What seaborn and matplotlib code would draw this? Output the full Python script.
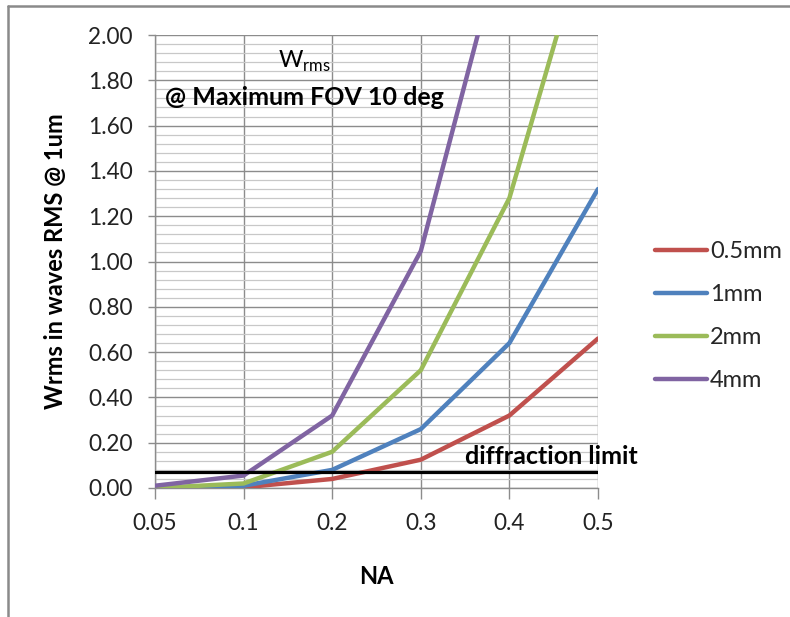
import numpy as np
import pandas as pd
import matplotlib
matplotlib.use("Agg")
import matplotlib.pyplot as plt
from matplotlib.lines import Line2D
from matplotlib.ticker import MultipleLocator
import seaborn as sns

# Numerical aperture categories (equally spaced category axis)
na_labels = ["0.05", "0.1", "0.2", "0.3", "0.4", "0.5"]

# RMS wavefront error (waves @ 1um) per field size
wrms_05mm = [0.00, 0.003, 0.04, 0.125, 0.32, 0.66]
wrms_1mm = [0.00, 0.01, 0.08, 0.26, 0.64, 1.32]
wrms_2mm = [0.00, 0.02, 0.16, 0.52, 1.28, 2.62]
wrms_4mm = [0.01, 0.055, 0.32, 1.046, 2.53, 4.90]

series_names = ["0.5mm", "1mm", "2mm", "4mm"]
series_colors = ["#C0504D", "#4F81BD", "#9BBB59", "#8064A2"]
diffraction_limit = 0.0714

rows = []
for name, vals in zip(series_names, [wrms_05mm, wrms_1mm, wrms_2mm, wrms_4mm]):
    for lab, v in zip(na_labels, vals):
        rows.append({"NA": lab, "Wrms": v, "size": name})
df = pd.DataFrame(rows)

sns.set_theme(style="white")
plt.rcParams["font.family"] = ["Lato", "DejaVu Sans"]

fig = plt.figure(figsize=(7.9, 6.17), dpi=100)
ax = fig.add_axes([155 / 790, 1 - 488 / 617, (598 - 155) / 790, (488 - 35) / 617])

sns.lineplot(data=df, x="NA", y="Wrms", hue="size", palette=series_colors,
             hue_order=series_names, linewidth=3.2, ax=ax, legend=False,
             sort=False, zorder=3)

ax.axhline(diffraction_limit, color="black", linewidth=2.3, zorder=4)

ax.set_xlim(0, len(na_labels) - 1)
ax.set_ylim(0, 2.0)
ax.yaxis.set_minor_locator(MultipleLocator(0.04))
ax.set_yticks(np.arange(0, 2.01, 0.2))
ax.set_yticklabels([f"{v:.2f}" for v in np.arange(0, 2.01, 0.2)])
ax.set_xticks(range(len(na_labels)))
ax.set_xticklabels(na_labels)

ax.grid(which="major", axis="y", color="#8c8c8c", linewidth=1.0, zorder=0)
ax.grid(which="minor", axis="y", color="#c8c8c8", linewidth=0.9, zorder=0)
ax.grid(which="major", axis="x", color="#8c8c8c", linewidth=1.0, zorder=0)
ax.set_axisbelow(True)

for side in ["top", "right"]:
    ax.spines[side].set_visible(False)
for side in ["left", "bottom"]:
    ax.spines[side].set_color("#8c8c8c")
    ax.spines[side].set_linewidth(1.0)

ax.tick_params(axis="y", which="major", direction="out", length=5, width=1,
               color="#8c8c8c", labelsize=16.3, pad=11, left=True)
ax.tick_params(axis="y", which="minor", length=0)
ax.tick_params(axis="x", which="major", direction="out", length=8, width=1,
               color="#8c8c8c", labelsize=16.3, pad=10, bottom=True)
for lab in ax.get_xticklabels() + ax.get_yticklabels():
    lab.set_color("#222222")

ax.set_xlabel("NA", fontsize=17, fontweight="bold", color="black")
ax.set_ylabel("Wrms in waves RMS @ 1um", fontsize=17, fontweight="bold",
              color="black")
ax.xaxis.label.set_va("center")
ax.yaxis.label.set_va("center")
ax.xaxis.set_label_coords(0.5, (488 - 577) / 453)
ax.yaxis.set_label_coords((55 - 155) / 443, 0.5)

# Chart annotations
ax.text(1.69, 1.885, r"W$_{\mathregular{rms}}$", fontsize=17, ha="center",
        va="center", color="black")
ax.text(0.11, 1.726, "@ Maximum FOV 10 deg", fontsize=18, fontweight="bold",
        ha="left", va="center", color="black")
ax.text(3.5, 0.137, "diffraction limit", fontsize=18, fontweight="bold",
        ha="left", va="center", color="black", clip_on=False)

# Legend
handles = [Line2D([0], [0], color=c, linewidth=3.2, solid_capstyle="round")
           for c in series_colors]
fig.legend(handles, series_names, loc="upper left",
           bbox_to_anchor=(646 / 790, 1 - 232 / 617), frameon=False,
           fontsize=17, handlelength=2.2, handletextpad=0.12,
           labelspacing=0.93, borderaxespad=0)

# Outer chart frame
fig.add_artist(Line2D([8 / 790, 8 / 790], [0, 1 - 6 / 617],
                      transform=fig.transFigure, color="#8a8a8a", linewidth=1.8))
fig.add_artist(Line2D([8 / 790, 1], [1 - 6 / 617, 1 - 6 / 617],
                      transform=fig.transFigure, color="#8a8a8a", linewidth=1.8))

fig.savefig("out.png", dpi=100, facecolor="white")
